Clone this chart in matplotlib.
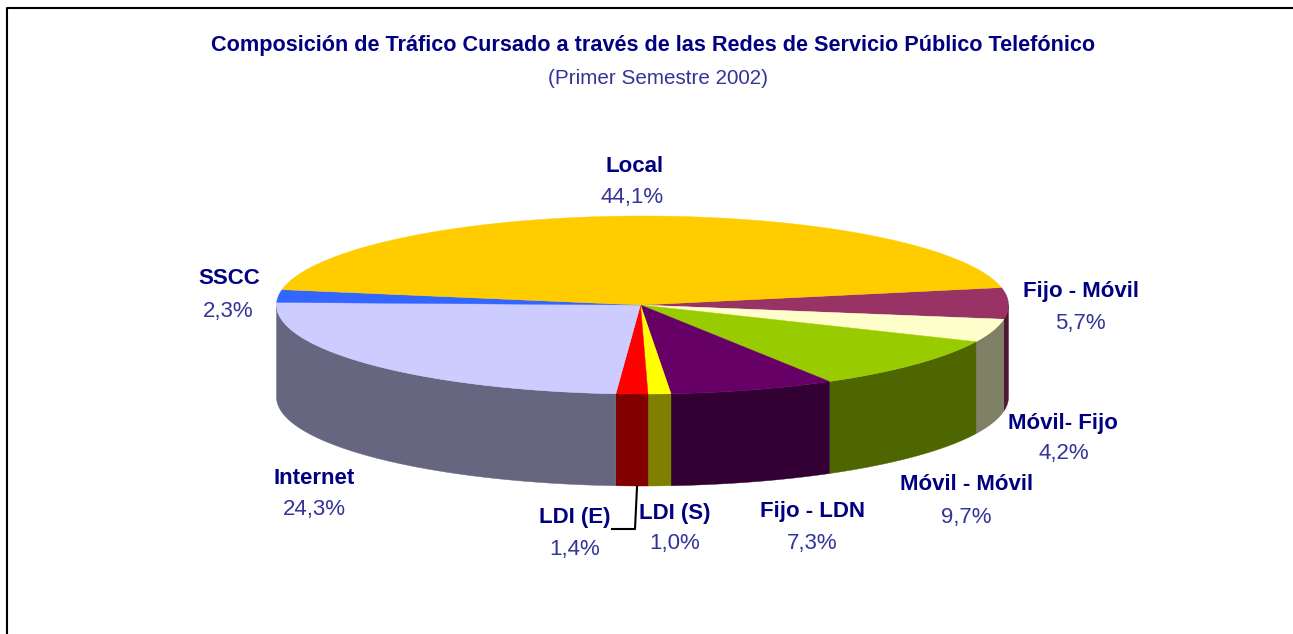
import matplotlib
matplotlib.use("Agg")
import matplotlib.pyplot as plt
from matplotlib.patches import Polygon
import numpy as np

# datos
categorias = ["Fijo - Móvil", "Móvil- Fijo", "Móvil - Móvil", "Fijo - LDN", "LDI (S)",
              "LDI (E)", "Internet", "SSCC", "Local"]
valores = [5.7, 4.2, 9.7, 7.3, 1.0, 1.4, 24.3, 2.3, 44.1]
etiquetas = ["5,7%", "4,2%", "9,7%", "7,3%", "1,0%", "1,4%", "24,3%", "2,3%", "44,1%"]
colores = ["#993366", "#FFFFCC", "#99CC00", "#660066", "#FFFF00",
           "#FF0000", "#CCCCFF", "#3366FF", "#FFCC00"]
colores_lado = ["#4D1A33", "#808066", "#4D6600", "#330033", "#808000",
                "#800000", "#666680", "#1A3380", "#806600"]

# posicion de los textos en pixeles (nombre, valor)
pos_nombre = [(1081, 291), (1063, 423), (967, 485), (812, 511), (675, 513),
              (575, 518), (314, 479), (229, 279), (635, 167)]
pos_valor = [(1080, 323), (1064, 453), (966, 517), (812, 543), (675, 544),
             (575, 549), (314, 510), (228, 311), (632, 197)]

cx, cy = 642.5, 305
rx, ry = 366, 89
prof = 92
inicio = 11.3

AZUL = "#000080"
AZUL2 = "#333399"
plt.rcParams['font.family'] = ['Liberation Sans', 'DejaVu Sans']

fig = plt.figure(figsize=(12.93, 6.34), dpi=100)
ax = fig.add_axes([0, 0, 1, 1])
ax.set_xlim(0, 1293)
ax.set_ylim(634, 0)
ax.axis("off")


def arco(t1, t2, dy=0):
    t = np.radians(np.linspace(t1, t2, 120))
    return np.column_stack([cx + rx * np.cos(t), cy + dy - ry * np.sin(t)])


angulos = inicio - np.cumsum([0] + valores) * 3.6

# lados
for i in range(len(valores)):
    a, b = angulos[i], angulos[i + 1]
    # solo la parte de abajo se ve
    a2 = min(a, 0)
    b2 = max(b, -180)
    if a2 <= b2:
        continue
    arr = arco(a2, b2)
    aba = arco(b2, a2, prof)
    ax.add_patch(Polygon(np.vstack([arr, aba]), closed=True, fc=colores_lado[i], ec=colores_lado[i], lw=0.3))

# tapa
for i in range(len(valores)):
    pts = np.vstack([[cx - 2, cy], arco(angulos[i], angulos[i + 1])])
    ax.add_patch(Polygon(pts, closed=True, fc=colores[i], ec=colores[i], lw=0.3))

# textos
for i in range(len(valores)):
    ax.text(pos_nombre[i][0], pos_nombre[i][1], categorias[i], color=AZUL, fontsize=16,
            fontweight="bold", ha="center", va="center")
    ax.text(pos_valor[i][0], pos_valor[i][1], etiquetas[i], color=AZUL2, fontsize=16,
            ha="center", va="center")

ax.text(653.5, 46, "Composición de Tráfico Cursado a través de las Redes de Servicio Público Telefónico",
        color=AZUL, fontsize=15.6, fontweight="bold", ha="center", va="center")
ax.text(658, 78, "(Primer Semestre 2002)", color=AZUL2, fontsize=14.9, ha="center", va="center")

# linea de LDI (E)
ax.plot([637, 635, 612], [487, 529, 529], color="black", lw=1.5)

# marco
ax.plot([7, 7, 1293], [634, 8, 8], color="black", lw=1.5)

fig.savefig("out.png", dpi=100)
